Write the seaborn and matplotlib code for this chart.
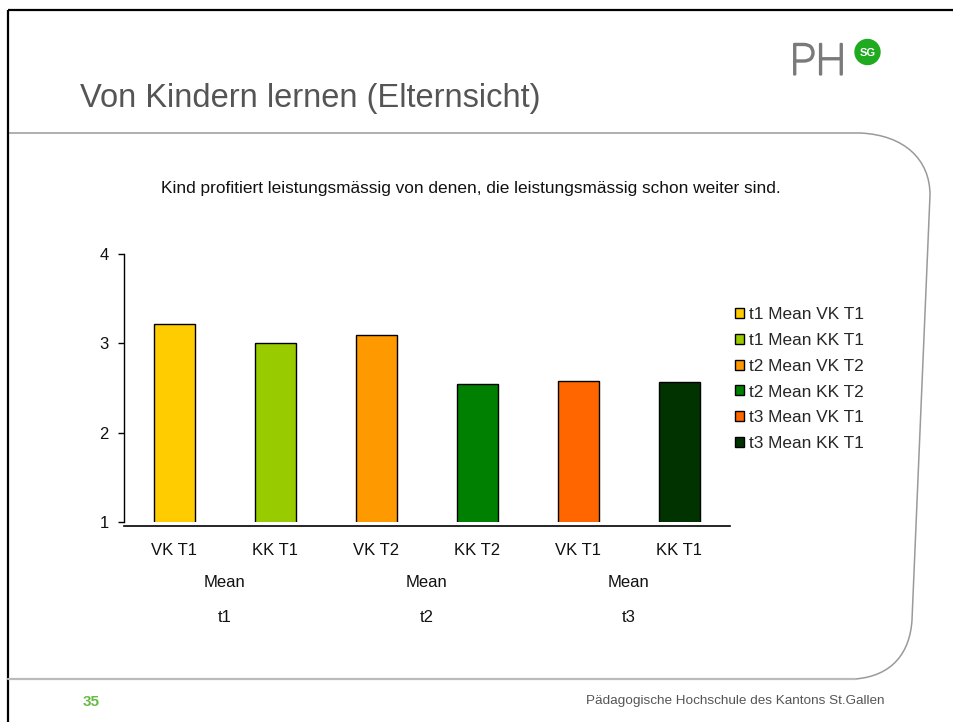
import numpy as np
import pandas as pd
import seaborn as sns
import matplotlib.pyplot as plt
import matplotlib.patheffects as pe
from matplotlib.path import Path
from matplotlib.patches import PathPatch, Circle
from matplotlib import transforms

# data
series = ['t1 Mean VK T1', 't1 Mean KK T1', 't2 Mean VK T2',
          't2 Mean KK T2', 't3 Mean VK T1', 't3 Mean KK T1']
bar_labels = ['VK T1', 'KK T1', 'VK T2', 'KK T2', 'VK T1', 'KK T1']
means = [3.22, 3.00, 3.09, 2.55, 2.58, 2.57]
colors = ['#FFCC00', '#99CC00', '#FF9900', '#008000', '#FF6600', '#003300']
groups = ['t1', 't2', 't3']
group_stat = 'Mean'

sns.set_theme(style='white')
plt.rcParams['font.family'] = ['Liberation Sans', 'DejaVu Sans']

fig = plt.figure(figsize=(9.54, 7.22), dpi=100)

# slide decoration (pixel coords)
deco = fig.add_axes([0, 0, 1, 1], zorder=-1)
deco.set_xlim(0, 954)
deco.set_ylim(722, 0)
deco.axis('off')
deco.plot([8, 954], [10, 10], color='black', lw=1.6, solid_capstyle='butt')
deco.plot([8, 8], [10, 722], color='black', lw=1.6, solid_capstyle='butt')
verts = [(8, 133), (860, 133), (905, 135), (930, 160), (930, 195),
         (912, 620), (910, 652), (893, 676), (855, 679), (8, 679)]
codes = [Path.MOVETO, Path.LINETO, Path.CURVE4, Path.CURVE4, Path.CURVE4,
         Path.LINETO, Path.CURVE4, Path.CURVE4, Path.CURVE4, Path.LINETO]
deco.add_patch(PathPatch(Path(verts, codes), fill=False, ec='#9a9a9a', lw=1.1))
deco.plot([8, 855], [679, 679], color='#bbbbbb', lw=1.6)

fig.text(80 / 954, 1 - 98 / 722, 'Von Kindern lernen (Elternsicht)', fontsize=23.5,
         color='#555555', ha='left', va='center')
logo = fig.text(818 / 954, 1 - 63 / 722, 'PH', fontsize=31, color='#7a7a7a',
                family=['Roboto', 'DejaVu Sans'], fontweight='light',
                ha='center', va='center')
logo.set_path_effects([pe.withStroke(linewidth=1.6, foreground='#7a7a7a')])
deco.add_patch(Circle((867.5, 52), 12.5, color='#1faa1f'))
deco.text(867.5, 52.5, 'SG', fontsize=8, color='white', fontweight='bold',
          ha='center', va='center')
fig.text(471 / 954, 1 - 188 / 722,
         'Kind profitiert leistungsmässig von denen, die leistungsmässig schon weiter sind.',
         fontsize=12.4, color='#111111', ha='center', va='center')
fig.text(91 / 954, 1 - 702 / 722, '35', fontsize=11, color='#66bb44', fontweight='bold',
         ha='center', va='center')
fig.text(885 / 954, 1 - 701 / 722, 'Pädagogische Hochschule des Kantons St.Gallen',
         fontsize=9.7, color='#555555', ha='right', va='center')

# chart
ax = fig.add_axes([124 / 954, 200 / 722, 606 / 954, 268 / 722])
sns.barplot(x=series, y=means, hue=series, palette=colors, saturation=1, width=0.4,
            edgecolor='black', linewidth=1, legend=True, ax=ax)
ax.set_ylim(1, 4)
ax.set_xlim(-0.5, 5.5)
ax.set_yticks([1, 2, 3, 4])
ax.set_xticks(range(len(bar_labels)))
ax.set_xticklabels(bar_labels)
ax.set_xlabel('')
ax.set_ylabel('')
for s in ['top', 'right']:
    ax.spines[s].set_visible(False)
ax.spines['left'].set_color('black')
ax.spines['bottom'].set_color('black')
ax.spines['left'].set_linewidth(1)
ax.spines['bottom'].set_linewidth(1.2)
ax.spines['bottom'].set_position(('outward', 3))
ax.tick_params(axis='y', left=True, length=4, width=1, color='black',
               pad=7, labelsize=12, labelcolor='#111111')
ax.tick_params(axis='x', bottom=False, length=0, pad=12, labelsize=12,
               labelcolor='#111111')

trans = transforms.blended_transform_factory(ax.transData, ax.transAxes)
for i, g in enumerate(groups):
    xc = 2 * i + 0.5
    ax.text(xc, -0.224, group_stat, transform=trans, ha='center', va='center',
            fontsize=12, color='#111111')
    ax.text(xc, -0.358, g, transform=trans, ha='center', va='center',
            fontsize=12, color='#111111')

ax.legend(loc='upper left', bbox_to_anchor=(735 / 954, 1 - 307 / 722),
          bbox_transform=fig.transFigure, frameon=False, fontsize=12.4,
          handlelength=0.52, handleheight=0.52, handletextpad=0.3,
          labelspacing=0.63, borderpad=0, borderaxespad=0)

fig.savefig('out.png', dpi=100)
